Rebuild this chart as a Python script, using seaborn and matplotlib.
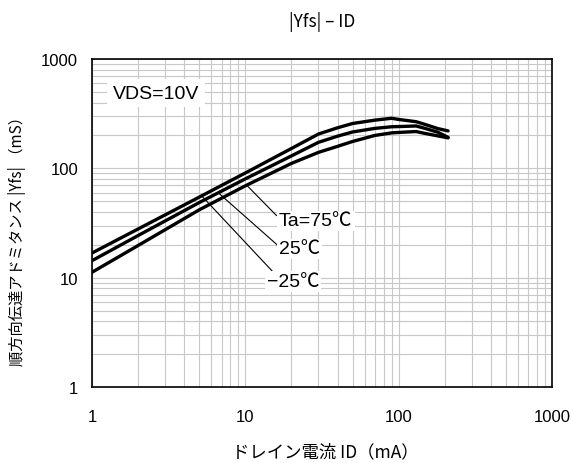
import numpy as np
import pandas as pd
import seaborn as sns
import matplotlib.pyplot as plt
from matplotlib.ticker import FixedLocator, LogLocator, NullFormatter

# |Yfs| - ID 特性 (VDS=10V)
current = [1, 2, 5, 10, 20, 30, 40, 50, 70, 90, 100, 130, 150, 180, 210]
yfs_m25 = [16.8, 27.9, 54.5, 90.7, 152, 206, 235, 257, 276, 287, 280, 267, 251, 231, 220]
yfs_25 = [14.3, 24.3, 48.6, 80.1, 130, 173, 197, 215, 232, 240, 241, 244, 231, 214, 192]
yfs_75 = [11.2, 19.7, 41.7, 69.2, 111, 140, 159, 176, 200, 211, 213, 217, 208, 198, 190]

temps = ["Ta=75℃", "25℃", "−25℃"]
series = [yfs_75, yfs_25, yfs_m25]
ticks = [1, 10, 100, 1000]
tick_labels = ["1", "10", "100", "1000"]

df = pd.concat([pd.DataFrame({"ID": current, "Yfs": s, "Ta": t}) for t, s in zip(temps, series)])

sns.set_style("white")
plt.rcParams['font.family'] = ['Liberation Sans', 'Noto Sans CJK JP', 'DejaVu Sans']
plt.rcParams.update({"text.color": "black", "axes.labelcolor": "black",
                     "xtick.color": "black", "ytick.color": "black"})
jp = ['Noto Sans CJK JP', 'DejaVu Sans']

fig = plt.figure(figsize=(5.74, 4.64), dpi=100)
ax = fig.add_axes([92/574, 1-388/464, 460/574, 328/464])

sns.lineplot(data=df, x="ID", y="Yfs", hue="Ta", palette=["black"]*3,
             legend=False, linewidth=2.4, ax=ax)

ax.set_xscale("log")
ax.set_yscale("log")
ax.set_xlim(1, 1000)
ax.set_ylim(1, 1000)
for axis in (ax.xaxis, ax.yaxis):
    axis.set_major_locator(FixedLocator(ticks))
    axis.set_minor_locator(LogLocator(base=10, subs=np.arange(2, 10)))
    axis.set_minor_formatter(NullFormatter())
ax.set_xticklabels(tick_labels)
ax.set_yticklabels(tick_labels)
ax.tick_params(which="both", length=0, labelsize=12, labelcolor="black")
ax.tick_params(axis="x", pad=16)
ax.tick_params(axis="y", pad=10)

ax.grid(which="both", color="#c8c8c8", linewidth=0.8)
ax.set_axisbelow(True)
for sp in ax.spines.values():
    sp.set_color("black")
    sp.set_linewidth(1.2)

ax.set_xlabel("ドレイン電流 ID（mA）", family=jp, fontsize=12.5, va="center", color="black")
ax.xaxis.set_label_coords(0.507, -0.195)
ax.set_ylabel("順方向伝達アドミタンス |Yfs| （mS）", family=jp, fontsize=11, va="center", color="black")
ax.yaxis.set_label_coords(-0.163, 0.46)
fig.text(322/574, 1-22/464, "|Yfs| – ID", family=jp, fontsize=12.5, ha="center", va="center")

ax.text(0.046, 0.896, "VDS=10V", transform=ax.transAxes, fontsize=14, ha="left", va="center",
        bbox=dict(boxstyle="square,pad=0.3", fc="white", ec="none"))

# 引き出し線とラベル
leader_x = [10.2, 6.66, 5.19]
leader_end = [(16.0, 36.9), (17.3, 18.3), (16.0, 10.4)]
label_pos = [(16.6, 33.0), (16.6, 18.3), (13.8, 9.3)]
for t, s, lx, end, pos in zip(temps, series, leader_x, leader_end, label_pos):
    ly = 10 ** np.interp(np.log10(lx), np.log10(current), np.log10(s))
    ax.annotate("", xy=(lx, ly), xytext=end,
                arrowprops=dict(arrowstyle="-", color="black", lw=0.8, shrinkA=0, shrinkB=0))
    ax.text(pos[0], pos[1], t, fontsize=14, ha="left", va="center", zorder=4,
            bbox=dict(boxstyle="square,pad=0.1", fc="white", ec="none"))

fig.savefig("out.png", dpi=100)
